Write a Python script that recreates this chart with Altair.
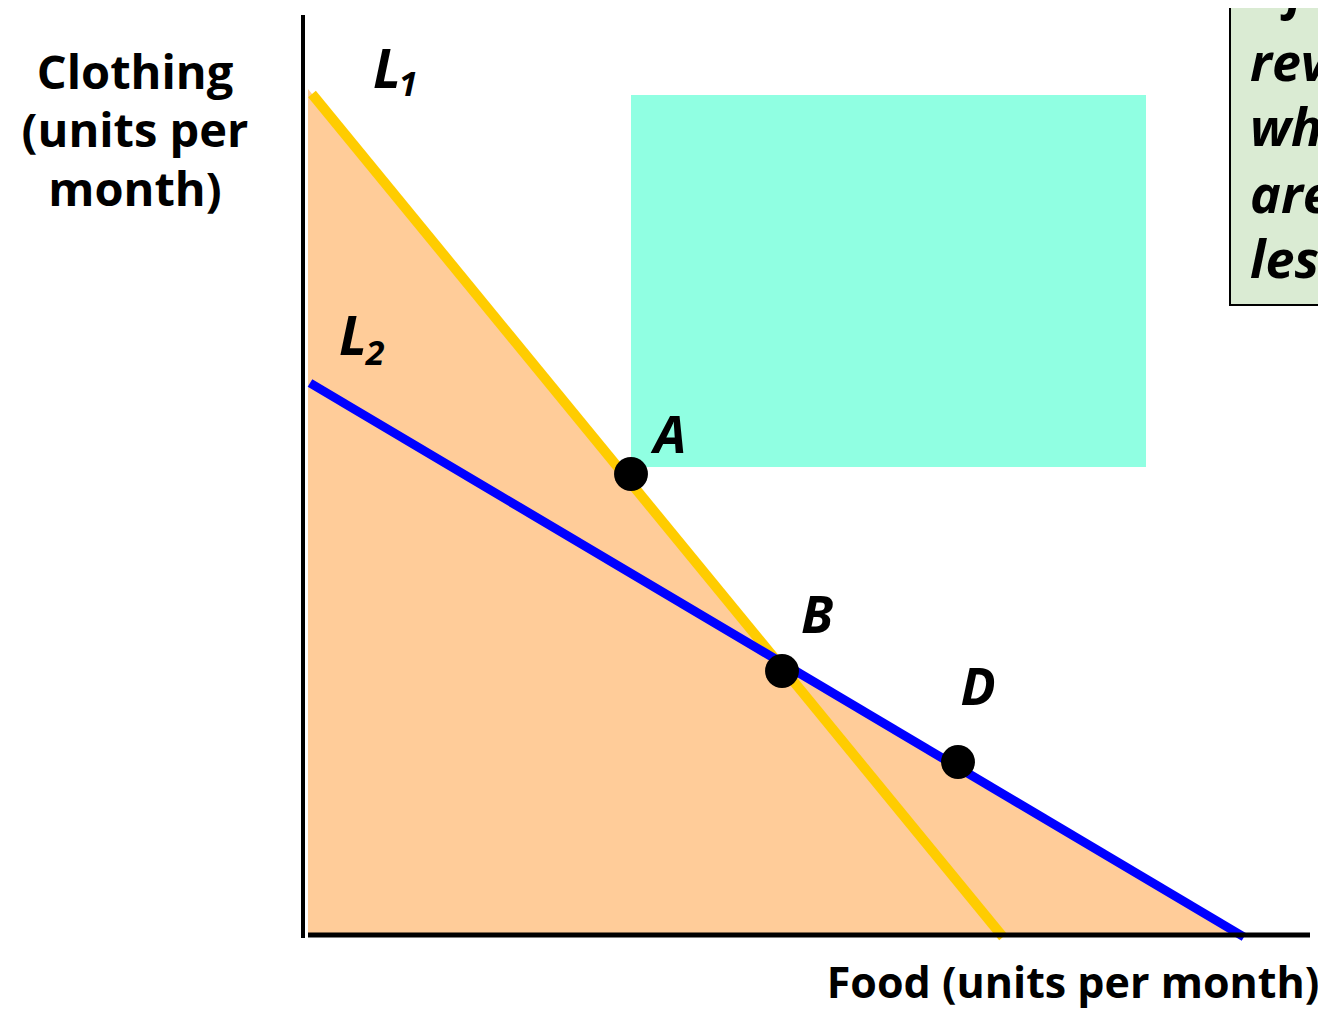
import altair as alt
import pandas as pd

# ---- data (units: food / clothing per month) ----
l1_food = [0.7, 69.8]
l1_cloth = [84.1, -0.2]
l2_food = [0.5, 93.9]
l2_cloth = [55.2, -0.2]

region_food = [0.3, 47.0, 93.5]
region_cloth = [84.6, 27.6, 0.3]

rect_food = [32.6, 84.1]
rect_cloth = [46.8, 84.0]

point_names = ["A", "B", "D"]
point_food = [32.6, 47.7, 65.3]
point_cloth = [46.1, 26.4, 17.3]
label_food = [36.5, 51.2, 67.3]
label_cloth = [49.8, 31.8, 24.6]

box_food = [92.5, 110.0]
box_cloth = [63.0, 96.0]
box_lines = ["\u2022If", "revealed", "which", "are", "less."]
box_line_cloth = [94.3, 87.0, 80.5, 73.8, 67.3]

ylabel_lines = ["Clothing", "(units per", "month)"]
ylabel_cloth = [86.0, 80.2, 74.3]

xs = alt.Scale(domain=[-29.7, 101.3], nice=False, zero=False)
ys = alt.Scale(domain=[-7.5, 92.7], nice=False, zero=False)

def X(f="x"):
    return alt.X(f"{f}:Q", scale=xs, axis=None)

def Y(f="y"):
    return alt.Y(f"{f}:Q", scale=ys, axis=None, stack=None)

region = alt.Chart(pd.DataFrame({"x": region_food, "y": region_cloth, "b": [0.0] * 3})).mark_area(
    color="#FFCC99", opacity=1, interpolate="linear"
).encode(x=X(), y=Y(), y2=alt.Y2("b:Q"))

rect = alt.Chart(pd.DataFrame({"x": [rect_food[0]], "x2": [rect_food[1]],
                               "y": [rect_cloth[0]], "y2": [rect_cloth[1]]})).mark_rect(
    color="#90FFE2"
).encode(x=X(), x2="x2:Q", y=Y(), y2="y2:Q")

line1 = alt.Chart(pd.DataFrame({"x": l1_food, "y": l1_cloth})).mark_line(
    color="#FFCC00", strokeWidth=10, strokeCap="butt"
).encode(x=X(), y=Y(), order="x:Q")

line2 = alt.Chart(pd.DataFrame({"x": l2_food, "y": l2_cloth})).mark_line(
    color="#0000FF", strokeWidth=9, strokeCap="butt"
).encode(x=X(), y=Y(), order="x:Q")

vaxis = alt.Chart(pd.DataFrame({"x": [-0.2], "y": [-0.3], "y2": [92.0]})).mark_rule(
    color="black", strokeWidth=4
).encode(x=X(), y=Y(), y2="y2:Q")

haxis = alt.Chart(pd.DataFrame({"x": [0.3], "x2": [100.5], "y": [0.0]})).mark_rule(
    color="black", strokeWidth=5
).encode(x=X(), x2="x2:Q", y=Y())

points = alt.Chart(pd.DataFrame({"x": point_food, "y": point_cloth})).mark_circle(
    color="black", opacity=1, size=1150
).encode(x=X(), y=Y())

plabels = alt.Chart(pd.DataFrame({"x": label_food, "y": label_cloth, "t": point_names})).mark_text(
    font="Open Sans", fontSize=52, fontWeight="bold", fontStyle="italic",
    color="black", align="center", baseline="middle"
).encode(x=X(), y=Y(), text="t:N")

Lbig = alt.Chart(pd.DataFrame({"x": [8.2, 4.8], "y": [86.3, 59.6], "t": ["L", "L"]})).mark_text(
    font="Open Sans", fontSize=54, fontWeight="bold", fontStyle="italic",
    color="black", align="center", baseline="middle"
).encode(x=X(), y=Y(), text="t:N")

Lsub = alt.Chart(pd.DataFrame({"x": [10.3, 7.0], "y": [84.9, 58.0], "t": ["1", "2"]})).mark_text(
    font="Open Sans", fontSize=34, fontWeight="bold", fontStyle="italic",
    color="black", align="center", baseline="middle"
).encode(x=X(), y=Y(), text="t:N")

ylab = alt.Chart(pd.DataFrame({"x": [-17.0] * 3, "y": ylabel_cloth, "t": ylabel_lines})).mark_text(
    font="Open Sans", fontSize=47, fontWeight="bold", color="black",
    align="center", baseline="middle"
).encode(x=X(), y=Y(), text="t:N")

xlab = alt.Chart(pd.DataFrame({"x": [76.8], "y": [-5.0], "t": ["Food (units per month)"]})).mark_text(
    font="Open Sans", fontSize=43, fontWeight="bold", color="black",
    align="center", baseline="middle"
).encode(x=X(), y=Y(), text="t:N")

box = alt.Chart(pd.DataFrame({"x": [box_food[0]], "x2": [box_food[1]],
                              "y": [box_cloth[0]], "y2": [box_cloth[1]]})).mark_rect(
    fill="#DAEBD3", stroke="black", strokeWidth=2
).encode(x=X(), x2="x2:Q", y=Y(), y2="y2:Q")

boxtext = alt.Chart(pd.DataFrame({"x": [94.5] * 5, "y": box_line_cloth, "t": box_lines})).mark_text(
    font="Open Sans", fontSize=52, fontWeight="bold", fontStyle="italic", color="black",
    align="left", baseline="middle"
).encode(x=X(), y=Y(), text="t:N")

chart = alt.layer(
    region, rect, line1, line2, vaxis, haxis, points, plabels, Lbig, Lsub, ylab, xlab, box, boxtext
).properties(
    width=1310, height=1002, padding=0,
    autosize=alt.AutoSizeParams(type="none"),
).configure_view(stroke=None)

chart.save("out.html", embed_options={"renderer": "svg", "actions": False})
